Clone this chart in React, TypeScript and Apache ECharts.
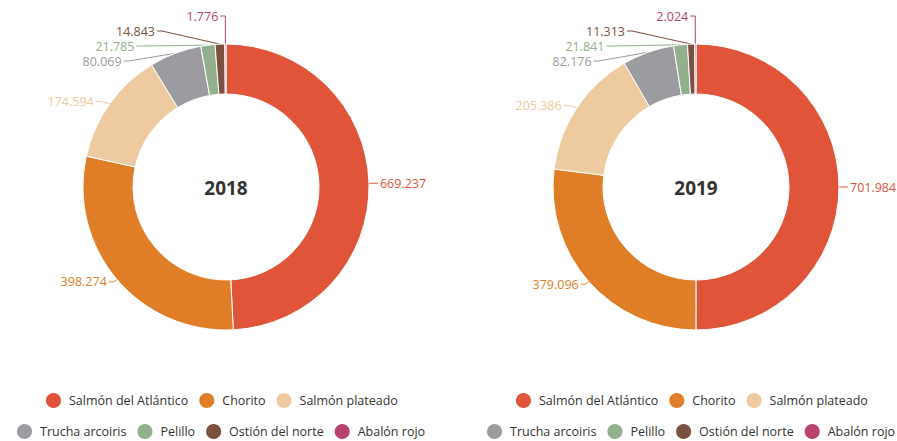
import React, { useEffect, useRef } from "react";
import * as echarts from "echarts";

const categories = [
  "Salmón del Atlántico",
  "Chorito",
  "Salmón plateado",
  "Trucha arcoiris",
  "Pelillo",
  "Ostión del norte",
  "Abalón rojo",
];
const values2018 = [669237, 398274, 174594, 80069, 21785, 14843, 1776];
const values2019 = [701984, 379096, 205386, 82176, 21841, 11313, 2024];
const years = ["2018", "2019"];
const colors = ["#e0553a", "#e07e28", "#eecaa0", "#9c9ca0", "#93b08e", "#7a5141", "#b8436f"];
const labelLen = [4, 4, 4, 4, 10, 18, 28];

const fmt = (v: number) => String(v).replace(/\B(?=(\d{3})+(?!\d))/g, ".");
const FONT = "'Open Sans', sans-serif";

export default function App() {
  const ref = useRef<HTMLDivElement>(null);
  useEffect(() => {
    if (!ref.current) return;
    const chart = echarts.init(ref.current, undefined, { renderer: "svg" });
    const centers = [226, 696];
    const mkSeries = (vals: number[], i: number) => ({
      type: "pie",
      name: years[i],
      center: [centers[i], 187],
      radius: [93, 143],
      startAngle: 90,
      clockwise: true,
      avoidLabelOverlap: true,
      itemStyle: { borderColor: "#fff", borderWidth: 1 },
      label: {
        show: true,
        position: "outside",
        fontFamily: FONT,
        fontSize: 12.5,
        overflow: "none",
        distanceToLabelLine: 2,
        formatter: (p: any) => fmt(p.value),
      },
      labelLine: { show: true, length: 4, length2: 5, lineStyle: { width: 1 } },
      emphasis: { disabled: true },
      data: categories.map((c, k) => ({
        name: c,
        value: vals[k],
        itemStyle: { color: colors[k] },
        label: { color: colors[k] },
        labelLine: { length: labelLen[k], lineStyle: { color: colors[k] } },
      })),
    });
    const legendBase = {
      icon: "circle",
      itemWidth: 21,
      itemHeight: 17,
      itemGap: 9,
      textStyle: { fontFamily: FONT, fontSize: 12.5, color: "#333" },
      orient: "horizontal",
      selectedMode: false,
      width: 600,
    };
    chart.setOption({
      animation: false,
      color: colors,
      legend: [
        { ...legendBase, data: categories.slice(0, 3), left: 39, top: 386 },
        { ...legendBase, data: categories.slice(3), left: 10, top: 417 },
        { ...legendBase, data: categories.slice(0, 3), left: 509, top: 386 },
        { ...legendBase, data: categories.slice(3), left: 480, top: 417 },
      ],
      graphic: years.map((y, i) => ({
        type: "text",
        x: centers[i],
        y: 188,
        style: {
          text: y,
          fontFamily: FONT,
          fontSize: 19,
          fontWeight: "bold",
          fill: "#333",
          textAlign: "center",
          textVerticalAlign: "middle",
        },
      })),
      series: [mkSeries(values2018, 0), mkSeries(values2019, 1)],
    });
    return () => chart.dispose();
  }, []);
  return (
    <div
      ref={ref}
      style={{ position: "fixed", left: 0, top: 0, width: 897, height: 441, background: "#fff" }}
    />
  );
}
